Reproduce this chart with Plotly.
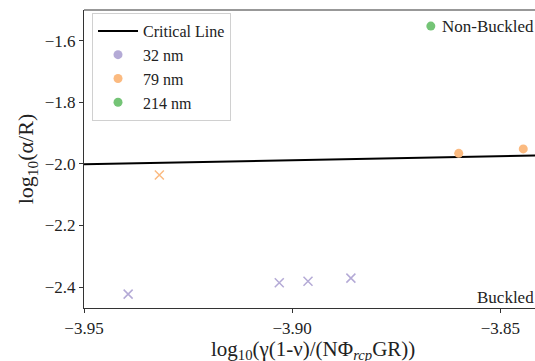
import plotly.graph_objects as go

# Data
crit_x = [-3.95, -3.84]
crit_y = [-2.001, -1.9725]

nm32_buckled_x = [-3.9394, -3.9031, -3.8962, -3.8859]
nm32_buckled_y = [-2.423, -2.386, -2.381, -2.371]

nm79_buckled_x = [-3.9319]
nm79_buckled_y = [-2.036]
nm79_nonbuckled_x = [-3.860, -3.8445]
nm79_nonbuckled_y = [-1.9656, -1.9513]

nm214_nonbuckled_x = [-3.8667]
nm214_nonbuckled_y = [-1.5523]

x_ticks = [-3.95, -3.90, -3.85]
x_tick_text = ["\u22123.95", "\u22123.90", "\u22123.85"]
y_ticks = [-2.4, -2.2, -2.0, -1.8, -1.6]
y_tick_text = ["\u22122.4", "\u22122.2", "\u22122.0", "\u22121.8", "\u22121.6"]

PURPLE = "#b4aad6"
ORANGE = "#fbba80"
GREEN = "#74c476"
FONT = "Liberation Serif, Times New Roman, serif"

fig = go.Figure()
fig.add_trace(go.Scatter(x=crit_x, y=crit_y, mode="lines", name="Critical Line",
                         line=dict(color="black", width=2), legendgroup="a"))
fig.add_trace(go.Scatter(x=[None], y=[None], mode="markers", name="32 nm",
                         marker=dict(color=PURPLE, size=9, symbol="circle"), legendgroup="b"))
fig.add_trace(go.Scatter(x=nm79_nonbuckled_x, y=nm79_nonbuckled_y, mode="markers", name="79 nm",
                         marker=dict(color=ORANGE, size=9, symbol="circle"), legendgroup="c"))
fig.add_trace(go.Scatter(x=nm214_nonbuckled_x, y=nm214_nonbuckled_y, mode="markers", name="214 nm",
                         marker=dict(color=GREEN, size=9, symbol="circle"), legendgroup="d"))
fig.add_trace(go.Scatter(x=nm32_buckled_x, y=nm32_buckled_y, mode="markers", showlegend=False,
                         marker=dict(color=PURPLE, size=9, symbol="x-thin",
                                     line=dict(color=PURPLE, width=1.5))))
fig.add_trace(go.Scatter(x=nm79_buckled_x, y=nm79_buckled_y, mode="markers", showlegend=False,
                         marker=dict(color=ORANGE, size=9, symbol="x-thin",
                                     line=dict(color=ORANGE, width=1.5))))

axis_common = dict(showgrid=False, zeroline=False, showline=True, linecolor="#333",
                   linewidth=1.2, ticks="outside", ticklen=4, tickcolor="#333",
                   tickfont=dict(family=FONT, size=17, color="#222"))

fig.update_xaxes(range=[-3.95, -3.84], tickvals=x_ticks, ticktext=x_tick_text, **axis_common)
fig.update_yaxes(range=[-2.468, -1.50], tickvals=y_ticks, ticktext=y_tick_text,
                 title=dict(text="log<sub>10</sub>(\u03b1/R)",
                            font=dict(family=FONT, size=22, color="#222"), standoff=4),
                 **axis_common)

fig.add_shape(type="line", xref="paper", yref="paper", x0=0, x1=1, y0=1, y1=1,
              line=dict(color="#333", width=1.2))

# x-axis title as annotation for exact placement
fig.add_annotation(text="log<sub>10</sub>(\u03b3(1-\u03bd)/(N\u03a6<sub><i>rcp</i></sub>GR))",
                   xref="paper", yref="paper", x=0.5, y=-0.14,
                   xanchor="center", yanchor="middle", showarrow=False,
                   font=dict(family=FONT, size=21, color="#222"))

fig.add_annotation(text="Non-Buckled", xref="paper", yref="paper", x=0.987, y=0.946,
                   xanchor="right", yanchor="middle", showarrow=False,
                   font=dict(family=FONT, size=17, color="#222"))
fig.add_annotation(text="Buckled", xref="paper", yref="paper", x=0.987, y=0.035,
                   xanchor="right", yanchor="middle", showarrow=False,
                   font=dict(family=FONT, size=17, color="#222"))

fig.update_layout(
    width=542, height=361,
    margin=dict(l=84, r=0, t=10, b=53),
    plot_bgcolor="white", paper_bgcolor="white",
    font=dict(family=FONT, color="#222"),
    legend=dict(x=0.0175, y=0.99, xanchor="left", yanchor="top",
                bgcolor="rgba(255,255,255,0.8)", bordercolor="#d0d0d0", borderwidth=1,
                font=dict(family=FONT, size=16, color="#222"),
                tracegroupgap=0, itemwidth=40),
)

fig.write_html("out.html", config={"displayModeBar": False},
               post_script="document.body.style.margin='0';document.body.style.overflow='hidden';")
